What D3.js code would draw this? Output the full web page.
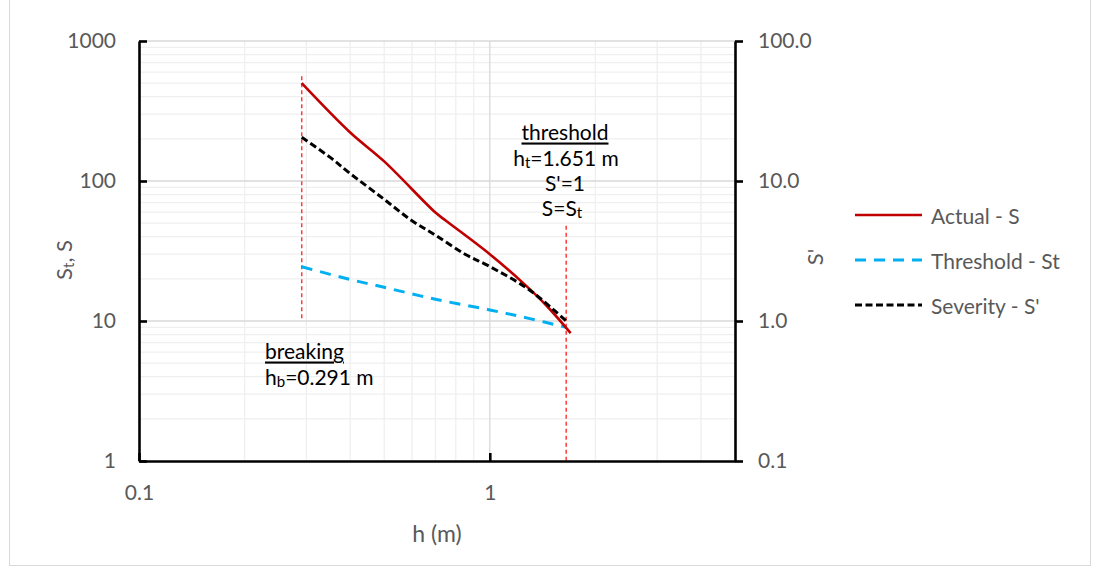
<!DOCTYPE html>
<html>
<head>
<meta charset="utf-8">
<script src="https://cdn.jsdelivr.net/npm/d3@7"></script>
<style>
  html, body { margin: 0; padding: 0; background: #fff; }
  svg { display: block; font-family: Lato, "Open Sans", sans-serif; }
  .tick text { fill: #595959; }
</style>
</head>
<body>
<svg id="chart" width="1101" height="570"></svg>
<script>
// Wave height h (m) and impact values along the breaking-to-threshold range
const actualH = [0.291, 0.4, 0.5, 0.7, 0.75, 1.0, 1.25, 1.45, 1.7];
const actualS = [500, 222, 138, 59.5, 52, 30, 18.5, 12.9, 8.2];

const thresholdH = [0.291, 0.4, 0.5, 0.7, 1.0, 1.3, 1.651];
const thresholdSt = [24.4, 19.8, 17.4, 14.3, 12.0, 10.4, 9.0];

const severityH = [0.291, 0.35, 0.4, 0.5, 0.6, 0.7, 0.85, 1.0, 1.3, 1.651];
const severityS = [20.5, 14.8, 11.3, 7.4, 5.2, 4.1, 3.0, 2.45, 1.66, 1.0];

// Vertical markers: breaking height and threshold height
const breakingLine = { h: 0.291, from: 560, to: 10 };
const thresholdLine = { h: 1.651, from: 48, to: 1 };

const xTicks = [0.1, 1];
const yTicks = [1, 10, 100, 1000];
const y2Ticks = [0.1, 1, 10, 100];

const seriesNames = ["Actual - S", "Threshold - St", "Severity - S'"];

const svg = d3.select("#chart");
const plot = { left: 139, right: 735, top: 41, bottom: 461 };
const textColor = "#595959";
const fontSize = 21;

// chart frame
svg.append("rect")
  .attr("x", 9.5).attr("y", -2)
  .attr("width", 1081).attr("height", 567.5)
  .attr("fill", "#fff").attr("stroke", "#d9d9d9").attr("stroke-width", 1);

const x = d3.scaleLog().domain([0.1, 5]).range([plot.left, plot.right]);
const y = d3.scaleLog().domain([1, 1000]).range([plot.bottom, plot.top]);
const y2 = d3.scaleLog().domain([0.1, 100]).range([plot.bottom, plot.top]);

// gridlines: minor (2..9) and major (decades)
const grid = svg.append("g");
const minorX = [], majorX = [1];
[0.1, 1].forEach(d => { for (let k = 2; k <= 9; k++) { const v = d * k; if (v < 5) minorX.push(v); } });
const minorY = [], majorY = [10, 100, 1000];
[1, 10, 100].forEach(d => { for (let k = 2; k <= 9; k++) minorY.push(d * k); });

function vGrid(vals, color) {
  grid.append("g").selectAll("line").data(vals).join("line")
    .attr("x1", d => x(d)).attr("x2", d => x(d))
    .attr("y1", plot.top).attr("y2", plot.bottom)
    .attr("stroke", color).attr("stroke-width", 1.3);
}
function hGrid(vals, color) {
  grid.append("g").selectAll("line").data(vals).join("line")
    .attr("y1", d => y(d)).attr("y2", d => y(d))
    .attr("x1", plot.left).attr("x2", plot.right)
    .attr("stroke", color).attr("stroke-width", 1.3);
}
vGrid(minorX, "#efefef");
hGrid(minorY, "#efefef");
vGrid(majorX, "#d9d9d9");
hGrid(majorY, "#d9d9d9");

// vertical reference markers
const markers = svg.append("g");
[breakingLine, thresholdLine].forEach(m => {
  markers.append("line")
    .attr("x1", x(m.h)).attr("x2", x(m.h))
    .attr("y1", y(m.from)).attr("y2", y(m.to))
    .attr("stroke", "#ff3b3b").attr("stroke-width", 1.5)
    .attr("stroke-dasharray", "4,3");
});

// series
const lineGen = (xs, ys, yScale) => d3.line()
  .x((d, i) => x(xs[i])).y((d, i) => yScale(ys[i]))
  .curve(d3.curveCatmullRom.alpha(0.5))(xs);

svg.append("path")
  .attr("d", lineGen(thresholdH, thresholdSt, y))
  .attr("fill", "none").attr("stroke", "#00b0f0").attr("stroke-width", 3)
  .attr("stroke-dasharray", "11,8");
svg.append("path")
  .attr("d", lineGen(actualH, actualS, y))
  .attr("fill", "none").attr("stroke", "#c00000").attr("stroke-width", 2.6);
svg.append("path")
  .attr("d", lineGen(severityH, severityS, y2))
  .attr("fill", "none").attr("stroke", "#000").attr("stroke-width", 3)
  .attr("stroke-dasharray", "7,3.5");

// axes
function styleAxis(g) {
  g.select(".domain").attr("stroke", "#000").attr("stroke-width", 2.6);
  g.selectAll(".tick line").attr("stroke", "#000").attr("stroke-width", 2.6);
  g.selectAll(".tick text").attr("font-size", fontSize).attr("font-family", "Lato, sans-serif");
}

svg.append("g")
  .attr("transform", `translate(${plot.left},0)`)
  .call(d3.axisLeft(y).tickValues(yTicks).tickFormat(d3.format("d"))
    .tickSizeInner(-8).tickSizeOuter(0).tickPadding(23))
  .call(styleAxis);

svg.append("g")
  .attr("transform", `translate(${plot.right},0)`)
  .call(d3.axisRight(y2).tickValues(y2Ticks).tickFormat(d3.format(".1f"))
    .tickSizeInner(8).tickSizeOuter(0).tickPadding(15))
  .call(styleAxis);

svg.append("g")
  .attr("transform", `translate(0,${plot.bottom})`)
  .call(d3.axisBottom(x).tickValues(xTicks).tickFormat(d => d === 0.1 ? "0.1" : "1")
    .tickSizeInner(-8).tickSizeOuter(0).tickPadding(24))
  .call(styleAxis);

// axis titles
const txt = (sel) => sel.attr("fill", textColor).attr("font-size", fontSize);

svg.append("text").call(txt)
  .attr("x", (plot.left + plot.right) / 2).attr("y", 533)
  .attr("text-anchor", "middle").attr("dominant-baseline", "central")
  .attr("font-size", 23)
  .text("h (m)");

const yTitle = svg.append("text").call(txt)
  .attr("transform", "translate(63,260) rotate(-90)")
  .attr("font-size", 22)
  .attr("text-anchor", "middle").attr("dominant-baseline", "central");
yTitle.append("tspan").text("S");
yTitle.append("tspan").attr("font-size", 15).attr("dy", 5).text("t");
yTitle.append("tspan").attr("dy", -5).text(", S");

svg.append("text").call(txt)
  .attr("transform", "translate(814,257) rotate(-90)")
  .attr("font-size", 22)
  .attr("text-anchor", "middle").attr("dominant-baseline", "central")
  .text("S'");

// annotations
const ann = svg.append("g").attr("fill", "#000").attr("font-size", fontSize);

ann.append("text").attr("x", 565).attr("y", 131)
  .attr("text-anchor", "middle").attr("dominant-baseline", "central")
  .attr("text-decoration", "underline").text("threshold");
const ht = ann.append("text").attr("x", 566).attr("y", 157)
  .attr("text-anchor", "middle").attr("dominant-baseline", "central");
ht.append("tspan").text("h");
ht.append("tspan").attr("font-size", 15).attr("dy", 5).text("t");
ht.append("tspan").attr("dy", -5).text("=1.651 m");
ann.append("text").attr("x", 565).attr("y", 182)
  .attr("text-anchor", "middle").attr("dominant-baseline", "central").text("S'=1");
const sst = ann.append("text").attr("x", 562).attr("y", 207)
  .attr("text-anchor", "middle").attr("dominant-baseline", "central");
sst.append("tspan").text("S=S");
sst.append("tspan").attr("font-size", 15).attr("dy", 5).text("t");

ann.append("text").attr("x", 265).attr("y", 350)
  .attr("dominant-baseline", "central")
  .attr("text-decoration", "underline").text("breaking");
const hb = ann.append("text").attr("x", 265).attr("y", 376)
  .attr("dominant-baseline", "central");
hb.append("tspan").text("h");
hb.append("tspan").attr("font-size", 15).attr("dy", 5).text("b");
hb.append("tspan").attr("dy", -5).text("=0.291 m");

// legend
const legendStyles = [
  { color: "#c00000", dash: null, width: 2.6 },
  { color: "#00b0f0", dash: "11,8", width: 3 },
  { color: "#000", dash: "7,3.5", width: 3 }
];
const legend = svg.append("g");
seriesNames.forEach((name, i) => {
  const yy = 215 + i * 45;
  const s = legendStyles[i];
  legend.append("line")
    .attr("x1", 855).attr("x2", 922).attr("y1", yy).attr("y2", yy)
    .attr("stroke", s.color).attr("stroke-width", s.width)
    .attr("stroke-dasharray", s.dash);
  legend.append("text").call(txt)
    .attr("x", 931).attr("y", yy)
    .attr("dominant-baseline", "central")
    .text(name);
});
</script>
</body>
</html>
